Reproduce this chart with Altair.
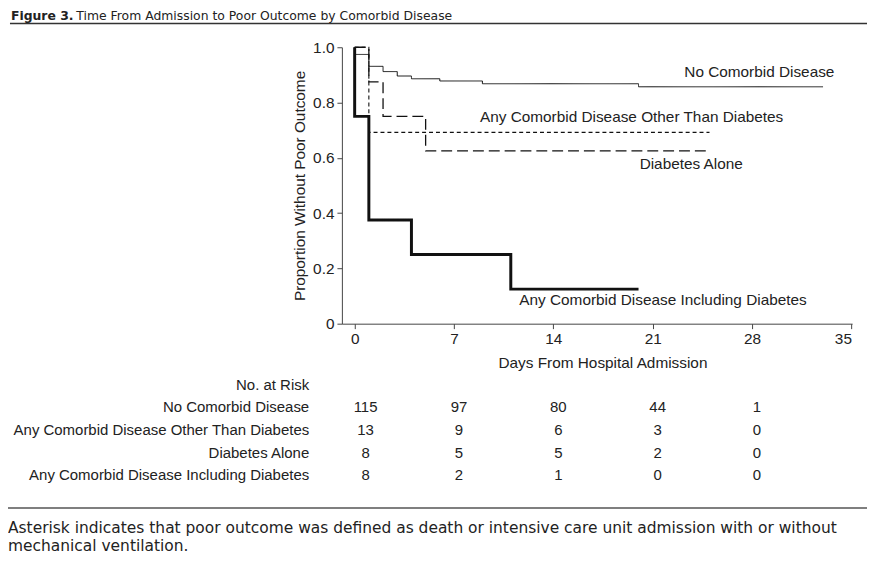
import altair as alt
import pandas as pd

# ---------------- data ----------------
groups = [
    "No Comorbid Disease",
    "Any Comorbid Disease Other Than Diabetes",
    "Diabetes Alone",
    "Any Comorbid Disease Including Diabetes",
]

nocom_day = [0, 0, 1, 2, 3, 4, 6, 9, 20, 33]
nocom_surv = [1.0, 0.974, 0.931, 0.912, 0.896, 0.886, 0.878, 0.868, 0.857, 0.857]
other_day = [0, 1, 25]
other_surv = [1.0, 0.692, 0.692]
diab_day = [0, 1, 2, 5, 25]
diab_surv = [1.0, 0.875, 0.75, 0.625, 0.625]
incl_day = [0, 0, 1, 4, 11, 20]
incl_surv = [1.0, 0.75, 0.375, 0.25, 0.125, 0.125]

risk_days = [0, 7, 14, 21, 28]
risk_nocom = [115, 97, 80, 44, 1]
risk_other = [13, 9, 6, 3, 0]
risk_diab = [8, 5, 5, 2, 0]
risk_incl = [8, 2, 1, 0, 0]

x_ticks = [0, 7, 14, 21, 28, 35]
y_ticks = [0, 0.2, 0.4, 0.6, 0.8, 1.0]

# curve label anchors (day, proportion)
label_day = [33.8, 30.2, 27.35, 31.85]
label_val = [0.909, 0.747, 0.578, 0.084]

title_bold = "Figure 3."
title_rest = "Time From Admission to Poor Outcome by Comorbid Disease"
footnote = [
    "Asterisk indicates that poor outcome was defined as death or intensive care unit admission with or without",
    "mechanical ventilation.",
]
risk_header = "No. at Risk"

# ---------------- tables ----------------
curve_sets = [
    (nocom_day, nocom_surv, [1, 0], 1.0),
    (other_day, other_surv, [4, 3], 1.1),
    (diab_day, diab_surv, [11, 5], 1.3),
    (incl_day, incl_surv, [1, 0], 3.0),
]

labels = pd.DataFrame({"group": groups, "day": label_day, "surv": label_val})

risk_rows = [risk_header] + groups
risk = []
for g, counts in zip(groups, [risk_nocom, risk_other, risk_diab, risk_incl]):
    for d, c in zip(risk_days, counts):
        risk.append({"row": g, "day": d, "n": str(c), "first": d == risk_days[0]})
risk = pd.DataFrame(risk)
risk_labels = pd.DataFrame({"row": risk_rows})

FONT = "Liberation Sans"
FS = 15.5
FS_TAB = 15.1
TXT = "#222222"

xscale = alt.Scale(domain=[-0.9, 35.05], nice=False, zero=False)
yscale = alt.Scale(domain=[0, 1], nice=False)

layers = []
for k, (g, (days, vals, dash, sw)) in enumerate(zip(groups, curve_sets)):
    df = pd.DataFrame({"day": days, "surv": vals, "idx": list(range(len(days)))})
    if k == 0:
        xenc = alt.X("day:Q", scale=xscale,
                     axis=alt.Axis(values=x_ticks, title="Days From Hospital Admission",
                                   titleX=263, titleAlign="center"))
        yenc = alt.Y("surv:Q", scale=yscale,
                     axis=alt.Axis(values=y_ticks, title="Proportion Without Poor Outcome",
                                   labelExpr="datum.value == 0 ? '0' : format(datum.value, '.1f')"))
    else:
        xenc = alt.X("day:Q", scale=xscale)
        yenc = alt.Y("surv:Q", scale=yscale, axis=None)
    layers.append(
        alt.Chart(df).mark_line(interpolate="step-after", color="#111111",
                                strokeDash=dash, strokeWidth=sw).encode(
            x=xenc, y=yenc, order=alt.Order("idx:Q"))
    )

curve_text = alt.Chart(labels).mark_text(
    align="right", baseline="middle", font=FONT, fontSize=FS, color=TXT
).encode(
    x=alt.X("day:Q", scale=xscale),
    y=alt.Y("surv:Q", scale=yscale, axis=None),
    text="group:N",
)

rowscale = alt.Scale(domain=risk_rows, range=[340.5, 432], padding=0)

risk_label_text = alt.Chart(risk_labels).mark_text(
    align="right", baseline="middle", font=FONT, fontSize=FS_TAB, color=TXT
).encode(
    x=alt.value(-33),
    y=alt.Y("row:N", scale=rowscale, axis=None),
    text="row:N",
)

risk_num_first = alt.Chart(risk).transform_filter("datum.first").mark_text(
    align="center", baseline="middle", font=FONT, fontSize=FS_TAB, color=TXT, dx=11
).encode(
    x=alt.X("day:Q", scale=xscale),
    y=alt.Y("row:N", scale=rowscale, axis=None),
    text="n:N",
)
risk_num_rest = alt.Chart(risk).transform_filter("!datum.first").mark_text(
    align="center", baseline="middle", font=FONT, fontSize=FS_TAB, color=TXT, dx=5
).encode(
    x=alt.X("day:Q", scale=xscale),
    y=alt.Y("row:N", scale=rowscale, axis=None),
    text="n:N",
)

one = pd.DataFrame({"k": [0]})
top_rule = alt.Chart(one).mark_rule(color="#333333", strokeWidth=1.6).encode(
    x=alt.value(-335), x2=alt.value(530), y=alt.value(-24))
bottom_rule = alt.Chart(one).mark_rule(color="#555555", strokeWidth=1.6).encode(
    x=alt.value(-337), x2=alt.value(530), y=alt.value(465))

FN_FONT = "DejaVu Sans"
fn1 = alt.Chart(one).mark_text(align="left", baseline="middle", font=FN_FONT,
                               fontSize=15.6, color="#222222", text=footnote[0]).encode(
    x=alt.value(-337), y=alt.value(485))
fn2 = alt.Chart(one).mark_text(align="left", baseline="middle", font=FN_FONT,
                               fontSize=15.6, color="#222222", text=footnote[1]).encode(
    x=alt.value(-337), y=alt.value(503.5))
t1 = alt.Chart(one).mark_text(align="left", baseline="alphabetic", font=FN_FONT,
                              fontSize=12.5, fontWeight="bold", color="#222222",
                              text=title_bold).encode(x=alt.value(-334), y=alt.value(-27.5))
t2 = alt.Chart(one).mark_text(align="left", baseline="alphabetic", font=FN_FONT,
                              fontSize=12.5, color="#222222",
                              text=title_rest).encode(x=alt.value(-268), y=alt.value(-27.5))

chart = alt.layer(
    *layers, curve_text, risk_label_text, risk_num_first, risk_num_rest,
    top_rule, bottom_rule, fn1, fn2, t1, t2
).resolve_scale(y="independent").properties(
    width=515, height=279,
    autosize=alt.AutoSizeParams(type="none"),
    padding={"left": 337, "top": 37, "right": 15, "bottom": 247},
).configure_view(stroke=None).configure_axis(
    grid=False, domainColor="#444444", tickColor="#444444", tickSize=5,
    labelFont=FONT, labelFontSize=FS, labelColor=TXT, labelPadding=3,
    titleFont=FONT, titleFontSize=FS, titleColor=TXT, titleFontWeight="normal",
).configure_axisX(titlePadding=9).configure_axisY(titlePadding=5)

chart.save("out.html", embed_options={"renderer": "svg", "actions": False})
